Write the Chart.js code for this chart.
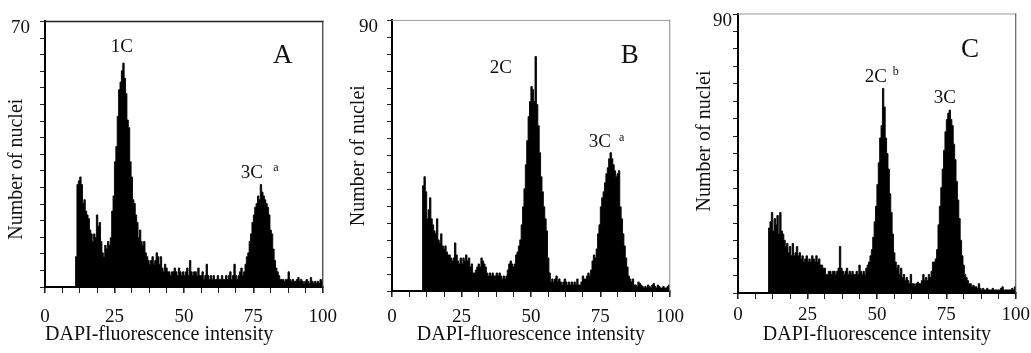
<!DOCTYPE html>
<html><head><meta charset="utf-8">
<script src="https://cdn.jsdelivr.net/npm/chart.js@4.4.0/dist/chart.umd.min.js"></script>
<style>
html,body{margin:0;padding:0;background:#fff;}
#wrap{position:relative;width:1031px;height:353px;overflow:hidden;background:#fff;}
canvas{position:absolute;top:0;}
</style></head><body>
<div id="wrap">
<canvas id="cA" width="350" height="353" style="left:0px"></canvas>
<canvas id="cB" width="350" height="353" style="left:343px"></canvas>
<canvas id="cC" width="345" height="353" style="left:690px"></canvas>
</div>
<script>
// ---- data (histogram channel counts, bins of 0.5 intensity units starting at 11) ----
const binStart = 11;
const binWidth = 0.5;
const xTickValues = [0, 25, 50, 75, 100];
const yMaxA = 70, yMaxB = 90, yMaxC = 90;

const countsA = [
  8,27,28,29,27,22,23,20,19,18,
  15,14,12,14,13,19,16,17,12,9,
  8,11,10,12,11,13,20,24,33,37,
  45,52,54,57,59,55,51,44,42,33,
  29,23,22,19,17,13,15,12,11,12,
  9,8,7,6,7,8,6,7,9,8,
  6,8,5,4,6,5,4,4,3,4,
  4,5,4,3,5,4,3,4,3,4,
  5,3,7,4,3,4,4,3,5,3,
  3,4,2,3,6,3,2,3,2,3,
  2,2,3,2,2,3,2,2,3,2,
  3,4,2,3,6,3,2,3,4,5,
  3,4,6,8,9,12,14,17,19,21,
  22,24,23,27,25,24,23,22,21,19,
  15,14,10,7,5,4,3,2,2,2,
  1.5,2,2,4,2,1.5,2,1.5,1.5,2,
  2.5,1.5,2,1.5,1,1.5,2,1.5,1,2.5,
  1.5,1,1.5,1,1.5,1,2,1.5
];
const countsB = [
  35,38,33,24,27,31,24,22,20,19,
  24,17,16,19,15,14,15,13,12,12,
  11,10,11,16,12,10,9,11,9,11,
  10,12,10,11,8,9,6,6,7,8,
  9,8,11,10,9,8,6,5,6,5,
  6,5,5,6,5,6,5,4,5,4,
  5,7,9,10,9,8,9,12,13,15,
  17,22,28,34,42,50,58,63,68,67,
  63,78,62,55,46,38,33,28,24,20,
  11,6,3,4,3,4,5,3,4,3,
  2,3,4,3,2,3,2,3,2,3,
  2,4,2,2,3,5,4,4,5,6,
  5,7,10,12,11,14,19,22,28,31,
  33,36,39,41,44,46,44,42,40,38,
  39,40,28,24,19,15,11,8,5,4,
  3,4,2,2,1.5,3,2.5,2,1.5,1,
  1.5,1,2,1.5,1,2,2.5,1.5,1,2,
  1.5,1,1,1.5,1,1,1.5,2
];
const countsC = [
  21,23,26,20,24,22,25,19,26,20,
  19,17,15,16,13,15,12,16,12,13,
  15,12,13,11,12,10,11,12,10,11,
  10,12,11,10,12,10,11,9,9,8,
  8,6,6,7,7,6,7,7,6,7,
  8,15,8,7,6,7,8,6,7,6,
  7,6,6,7,6,9,7,6,7,6,
  8,9,10,12,14,18,23,28,35,42,
  50,54,66,60,50,45,40,32,26,19,
  13,10,8,9,6,8,5,6,4,5,
  4,3,6,3,3,2.5,3,3.5,3,3,
  4,6,4,5,4,6,5,7,10,10,
  11,14,22,28,34,40,46,52,56,58,
  59,56,54,48,43,36,30,24,17,12,
  9,6,5,4,3,3,2,2.5,2,2,
  1.5,3,1.5,1,1.5,1,1,1.5,1,1,
  1,1.5,1,1,1,1,1,1.5,2,1,
  1,1,1,1,1,1.5,1,2
];

// ---- rendering ----
const FONT = '"Liberation Serif", "Times New Roman", serif';
Chart.defaults.font.family = FONT;
Chart.defaults.color = '#111';

function toPoints(counts) {
  const pts = [{x: 0, y: 0}];
  counts.forEach((v, i) => pts.push({x: binStart + i * binWidth, y: v}));
  pts.push({x: 100, y: 0});
  return pts;
}

const framePlugin = {
  id: 'frameLabels',
  afterDraw(chart, args, opts) {
    const {ctx, chartArea: a, scales} = chart;
    ctx.save();
    ctx.lineCap = 'square';
    ctx.strokeStyle = opts.topColor; ctx.lineWidth = opts.topWidth;
    ctx.beginPath(); ctx.moveTo(a.left, a.top); ctx.lineTo(a.right, a.top); ctx.stroke();
    ctx.strokeStyle = opts.rightColor; ctx.lineWidth = opts.rightWidth;
    ctx.beginPath(); ctx.moveTo(a.right, a.top); ctx.lineTo(a.right, a.bottom); ctx.stroke();
    ctx.fillStyle = '#111';
    ctx.textAlign = 'center';
    ctx.textBaseline = 'middle';
    (opts.items || []).forEach(it => {
      ctx.font = it.size + 'px ' + FONT;
      ctx.fillText(it.text, scales.x.getPixelForValue(it.x), scales.y.getPixelForValue(it.y));
    });
    ctx.restore();
  }
};

function makePanel(id, counts, yMax, cfg) {
  new Chart(document.getElementById(id), {
    type: 'line',
    data: {
      datasets: [{
        data: toPoints(counts),
        stepped: true,
        fill: 'origin',
        backgroundColor: '#000',
        borderColor: '#000',
        borderWidth: 0.9,
        pointRadius: 0,
        pointHoverRadius: 0
      }]
    },
    options: {
      responsive: false,
      animation: false,
      events: [],
      layout: {padding: {left: 0, right: 4, top: 14, bottom: 0}},
      plugins: {
        legend: {display: false},
        tooltip: {enabled: false},
        frameLabels: cfg.frame
      },
      scales: {
        x: {
          type: 'linear', min: 0, max: 100,
          ticks: {
            stepSize: 6.25, autoSkip: false, maxRotation: 0, minRotation: 0,
            padding: cfg.xTickPad, color: '#111',
            font: {family: FONT, size: 19},
            callback: v => xTickValues.includes(v) ? String(v) : ''
          },
          grid: {drawOnChartArea: false, drawTicks: true, tickLength: 6, color: '#222', tickColor: '#222',
                 lineWidth: c => (c.tick && xTickValues.includes(c.tick.value)) ? 1.6 : 1},
          border: {display: true, color: '#000', width: 2},
          title: {display: true, text: 'DAPI-fluorescence intensity', color: '#111', align: cfg.xTitleAlign,
                  font: {family: FONT, size: 20}, padding: {top: 0, bottom: 6}},
          afterFit: s => { s.height = cfg.xHeight; }
        },
        y: {
          type: 'linear', min: 0, max: yMax,
          ticks: {
            stepSize: yMax / 16, autoSkip: false, padding: cfg.yTickPad, color: '#111',
            labelOffset: 7,
            font: {family: FONT, size: 19},
            callback: v => v === yMax ? String(yMax) : ''
          },
          grid: {drawOnChartArea: false, drawTicks: true, tickLength: 5, color: '#222', tickColor: '#222', lineWidth: 1},
          border: {display: true, color: '#000', width: 2},
          title: {display: true, text: cfg.yTitle, color: '#111',
                  font: {family: FONT, size: 20}, padding: {top: cfg.yTitlePad, bottom: 0}},
          afterFit: s => { s.width = cfg.yWidth; }
        }
      }
    },
    plugins: [framePlugin]
  });
}

makePanel('cA', countsA, yMaxA, {
  yWidth: 45, xHeight: 66, xTickPad: 13, yTickPad: 10, yTitlePad: 5, xTitleAlign: 'start',
  yTitle: 'Number of nuclei      ',
  frame: {topColor: '#222', topWidth: 1.5, rightColor: '#333', rightWidth: 1.2,
    items: [
      {text: '1C', x: 27.7, y: 63.3, size: 19},
      {text: 'A', x: 85.6, y: 60.8, size: 27},
      {text: '3C', x: 74.5, y: 30, size: 19},
      {text: 'a', x: 83.1, y: 31.3, size: 12}
    ]}
});
makePanel('cB', countsB, yMaxB, {
  yWidth: 49, xHeight: 62, xTickPad: 9, yTickPad: 9, yTitlePad: 4, xTitleAlign: 'center',
  yTitle: 'Number of nuclei',
  frame: {topColor: '#9a9a9a', topWidth: 1, rightColor: '#8a8a8a', rightWidth: 1,
    items: [
      {text: '2C', x: 39.2, y: 74.1, size: 19},
      {text: 'B', x: 85.6, y: 78.3, size: 27},
      {text: '3C', x: 74.8, y: 49.7, size: 19},
      {text: 'a', x: 82.7, y: 51, size: 12}
    ]}
});
makePanel('cC', countsC, yMaxC, {
  yWidth: 48, xHeight: 60, xTickPad: 5, yTickPad: 1, yTitlePad: 3, xTitleAlign: 'center',
  yTitle: '     Number of nuclei',
  frame: {topColor: '#9a9a9a', topWidth: 1, rightColor: '#444', rightWidth: 1,
    items: [
      {text: '2C', x: 49.6, y: 69.7, size: 19},
      {text: 'b', x: 56.8, y: 71.3, size: 12},
      {text: 'C', x: 83.5, y: 78.4, size: 27},
      {text: '3C', x: 74.5, y: 62.9, size: 19}
    ]}
});
</script>
</body></html>
